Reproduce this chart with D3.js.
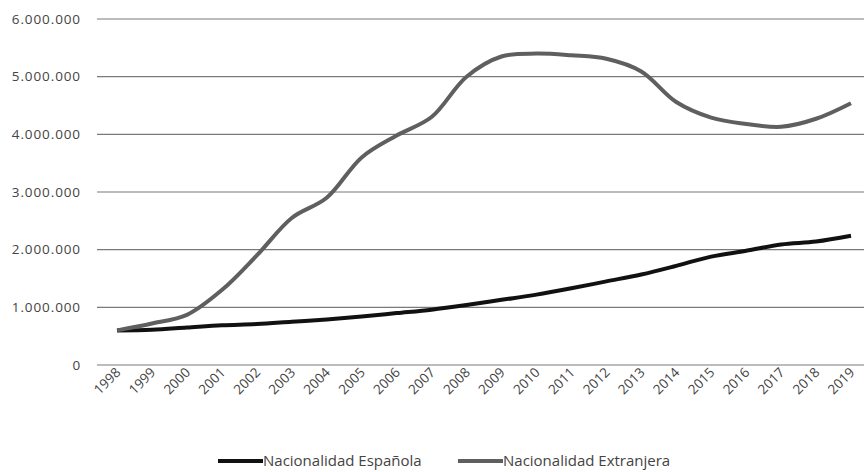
<!DOCTYPE html>
<html>
<head>
<meta charset="utf-8">
<script src="https://cdn.jsdelivr.net/npm/d3@7"></script>
<style>
  body { margin: 0; background: #fff; }
  text { font-family: "Open Sans", "Noto Sans", sans-serif; fill: #444; }
</style>
</head>
<body>
<div id="chart"></div>
<script>
const years = ['1998','1999','2000','2001','2002','2003','2004','2005','2006','2007','2008',
  '2009','2010','2011','2012','2013','2014','2015','2016','2017','2018','2019'];
const espanola = [600000, 610000, 650000, 690000, 710000, 750000, 790000, 840000, 900000, 960000, 1040000,
  1130000, 1220000, 1330000, 1450000, 1570000, 1720000, 1880000, 1980000, 2090000, 2140000, 2240000];
const extranjera = [600000, 720000, 870000, 1300000, 1900000, 2550000, 2900000, 3600000, 3980000, 4300000, 5000000,
  5350000, 5400000, 5370000, 5310000, 5090000, 4560000, 4290000, 4180000, 4130000, 4270000, 4540000];
const yTicks = [0, 1000000, 2000000, 3000000, 4000000, 5000000, 6000000];
const seriesNames = ['Nacionalidad Española', 'Nacionalidad Extranjera'];
const seriesColors = ['#111111', '#5f5f5f'];

const width = 864, height = 472;
const svg = d3.select('#chart').append('svg')
  .attr('width', width).attr('height', height);

const x = d3.scalePoint().domain(years).range([117, 851]);
const y = d3.scaleLinear().domain([0, 6000000]).range([365, 19]);

// formato con puntos de miles
const fmt = d => d3.format(',')(d).replace(/,/g, '.');

// rejilla
svg.append('g').selectAll('line')
  .data(yTicks).enter().append('line')
  .attr('x1', 97).attr('x2', 864)
  .attr('y1', d => y(d)).attr('y2', d => y(d))
  .attr('stroke', '#7a7a7a').attr('stroke-width', 1.2);

// etiquetas eje y
svg.append('g').selectAll('text')
  .data(yTicks).enter().append('text')
  .attr('x', 81).attr('y', d => y(d)).attr('dy', '0.35em')
  .attr('text-anchor', 'end')
  .style('font-size', '13.5px').style('letter-spacing', '0.9px')
  .text(d => fmt(d));

// etiquetas eje x
svg.append('g').selectAll('text')
  .data(years).enter().append('text')
  .attr('transform', d => `translate(${x(d) + 1},${370}) rotate(-45)`)
  .attr('text-anchor', 'end').attr('dy', '0.35em')
  .style('font-size', '13.5px')
  .text(d => d);

const line = d3.line()
  .x((d, i) => x(years[i]))
  .y(d => y(d))
  .curve(d3.curveCatmullRom.alpha(0.5));

[espanola, extranjera].forEach((vals, i) => {
  svg.append('path')
    .datum(vals)
    .attr('fill', 'none')
    .attr('stroke', seriesColors[i])
    .attr('stroke-width', 4)
    .attr('stroke-linejoin', 'round')
    .attr('d', line);
});

// leyenda
const legendX = [218, 458];
seriesNames.forEach((name, i) => {
  const g = svg.append('g').attr('transform', `translate(${legendX[i]},461)`);
  g.append('line').attr('x1', 0).attr('x2', 45)
    .attr('stroke', seriesColors[i]).attr('stroke-width', 4);
  g.append('text').attr('x', 45).attr('dy', '0.35em')
    .style('font-size', '15px').text(name);
});
</script>
</body>
</html>
